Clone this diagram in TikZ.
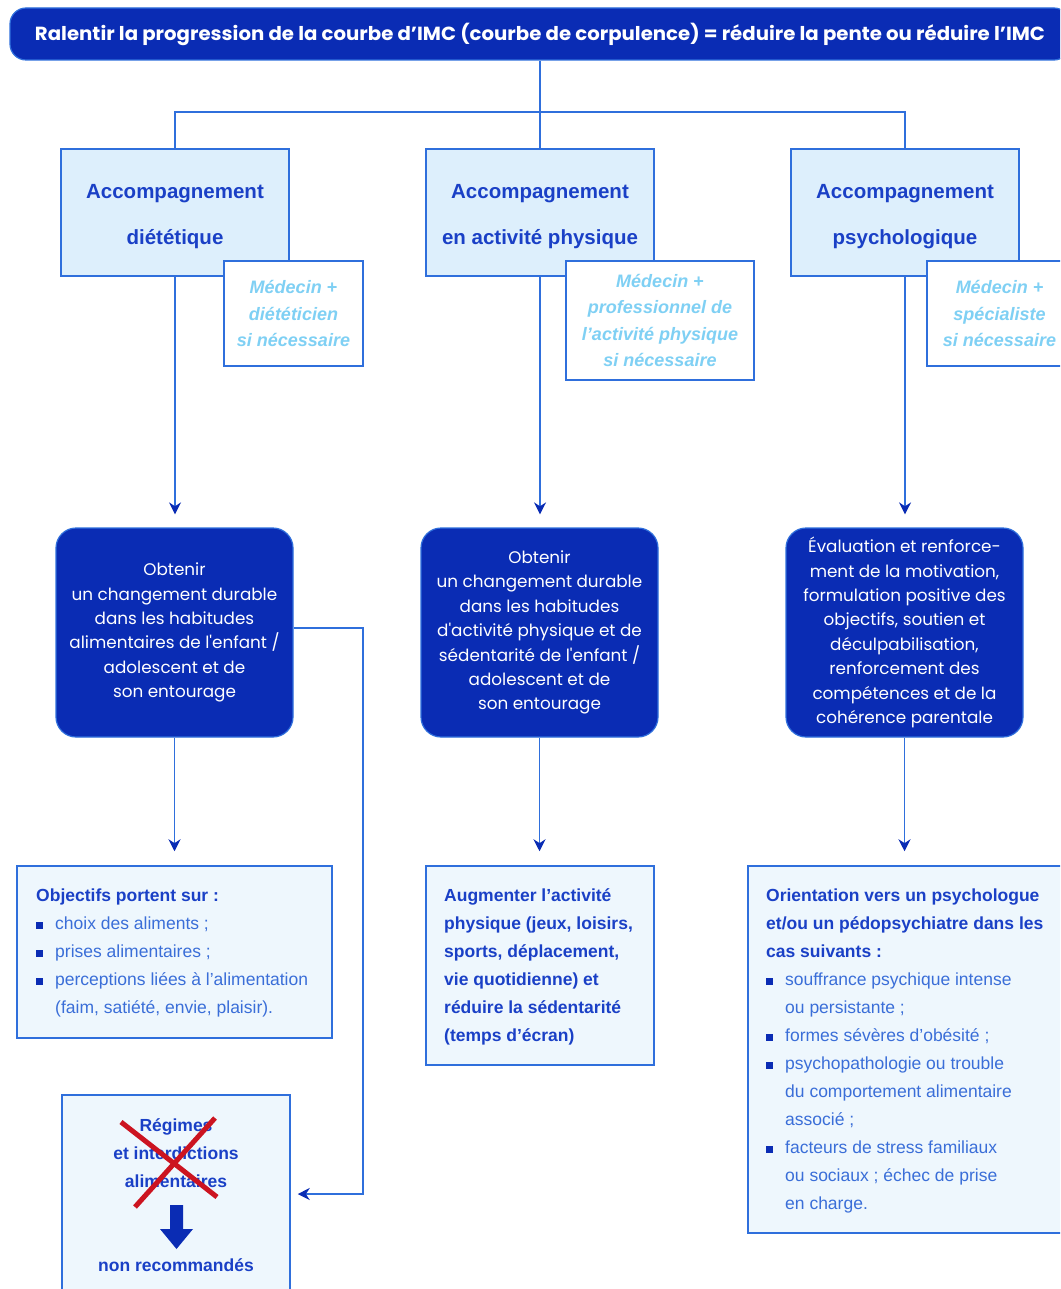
\documentclass[tikz,border=0pt]{standalone}
\usepackage{fontspec}
\setmainfont{Liberation Sans}
\newfontfamily\gothic{Poppins}
\usetikzlibrary{arrows.meta}
\definecolor{darkblue}{HTML}{0A2CB4}
\definecolor{lineblue}{HTML}{2F6FDC}
\definecolor{topfill}{HTML}{DDEFFC}
\definecolor{lightfill}{HTML}{EEF7FD}
\definecolor{headblue}{HTML}{1A40C6}
\definecolor{bodyblue}{HTML}{3A6ED8}
\definecolor{italblue}{HTML}{7FD0F4}
\definecolor{crossred}{HTML}{CC1420}
\newcommand\bul{\makebox[19pt][l]{\textcolor{darkblue}{\raisebox{0.8pt}{\rule{6.5pt}{6.5pt}}}}}
\newcommand\ind{\hspace*{19pt}}
\newcommand\hd[1]{\textcolor{headblue}{\bfseries #1}}
\newcommand\twolines[2]{\begin{tabular}{@{}c@{}}#1\\#2\end{tabular}}
\begin{document}
\begin{tikzpicture}[x=1pt,y=-1pt,
 conn/.style={draw=lineblue,line width=1.8pt},
 arr/.style={conn,-{Stealth[length=12pt,width=12pt,color=darkblue]}},
 topbox/.style={draw=lineblue,line width=1.5pt,fill=topfill,text=headblue,font=\fontsize{20.5}{46}\selectfont\bfseries,align=center,inner sep=0pt,minimum width=228pt,minimum height=127pt},
 sidebox/.style={draw=lineblue,line width=1.5pt,fill=white,text=italblue,font=\fontsize{18}{26.5}\selectfont\bfseries\itshape,align=center,inner sep=0pt},
 darkbox/.style={draw=lineblue,line width=1.2pt,fill=darkblue,rounded corners=20pt,text=white,font=\gothic\fontsize{16.8}{24.4}\selectfont,align=center,inner sep=0pt,minimum width=237pt,minimum height=209pt},
 infobox/.style={draw=lineblue,line width=1.5pt,fill=lightfill,inner sep=0pt},
 infotext/.style={anchor=north west,align=left,inner sep=0pt,text=bodyblue,font=\fontsize{17.5}{28}\selectfont},
]
\useasboundingbox (0,0) rectangle (1060,1289);
\clip (0,0) rectangle (1060,1289);
\fill[white] (0,0) rectangle (1060,1289);

% banner
\node[fill=darkblue,draw=lineblue,line width=1.2pt,rounded corners=16pt,minimum width=1060pt,minimum height=52pt,inner sep=0pt,text=white] (b) at (540,34)
 {\resizebox{1010pt}{\height}{\gothic\bfseries\fontsize{19}{19}\selectfont Ralentir la progression de la courbe d’IMC (courbe de corpulence) = réduire la pente ou réduire l’IMC}};

% top boxes
\node[topbox] (t1) at (175,212.5) {\twolines{Accompagnement}{diététique}};
\node[topbox] (t2) at (540,212.5) {\twolines{Accompagnement}{en activité physique}};
\node[topbox] (t3) at (905,212.5) {\twolines{Accompagnement}{psychologique}};

\coordinate (j) at (540,112);
\draw[conn] (b.south) -- (t2.north);
\draw[conn] (t1.north) |- (j) -| (t3.north);

% side boxes
\node[sidebox,minimum width=139pt,minimum height=105pt] (s1) at (293.5,313.5) {Médecin +\\diététicien\\si nécessaire};
\node[sidebox,minimum width=188pt,minimum height=119pt] (s2) at (660,320.5) {Médecin +\\professionnel de\\l’activité physique\\si nécessaire};
\node[sidebox,minimum width=145pt,minimum height=105pt] (s3) at (999.5,313.5) {Médecin +\\spécialiste\\si nécessaire};

% dark boxes
\node[darkbox] (d1) at (174.5,632.5) {Obtenir\\un changement durable\\dans les habitudes\\alimentaires de l'enfant /\\adolescent et de\\son entourage};
\node[darkbox] (d2) at (539.5,632.5) {Obtenir\\un changement durable\\dans les habitudes\\d'activité physique et de\\sédentarité de l'enfant /\\adolescent et de\\son entourage};
\node[darkbox] (d3) at (904.5,632.5) {Évaluation et renforce-\\ment de la motivation,\\formulation positive des\\objectifs, soutien et\\déculpabilisation,\\renforcement des\\compétences et de la\\cohérence parentale};

\draw[arr,shorten >=13pt] (t1.south) -- (t1.south |- d1.north);
\draw[arr,shorten >=13pt] (t2.south) -- (t2.south |- d2.north);
\draw[arr,shorten >=13pt] (t3.south) -- (t3.south |- d3.north);

% bottom boxes
\node[infobox,minimum width=315pt,minimum height=172pt] (o1) at (174.5,952) {};
\node[infobox,minimum width=228pt,minimum height=199pt] (o2) at (540,965.5) {};
\node[infobox,minimum width=327pt,minimum height=367pt] (o3) at (911.5,1049.5) {};

\draw[arr,shorten >=14pt] (d1.south) -- (d1.south |- o1.north);
\draw[arr,shorten >=14pt] (d2.south) -- (d2.south |- o2.north);
\draw[arr,shorten >=14pt] (d3.south) -- (d3.south |- o3.north);

\node[infotext] (o1t) at (36,888.5) {\hd{Objectifs portent sur :}\\
\bul choix des aliments ;\\
\bul prises alimentaires ;\\
\bul perceptions liées à l’alimentation\\
\ind(faim, satiété, envie, plaisir).};

\node[infotext,text=headblue,font=\fontsize{17.5}{28}\selectfont\bfseries] (o2t) at (444,888.5) {Augmenter l’activité\\
physique (jeux, loisirs,\\
sports, déplacement,\\
vie quotidienne) et\\
réduire la sédentarité\\
(temps d’écran)};

\node[infotext] (o3t) at (766,888.5) {\hd{Orientation vers un psychologue}\\
\hd{et/ou un pédopsychiatre dans les}\\
\hd{cas suivants :}\\
\bul souffrance psychique intense\\
\ind ou persistante ;\\
\bul formes sévères d’obésité ;\\
\bul psychopathologie ou trouble\\
\ind du comportement alimentaire\\
\ind associé ;\\
\bul facteurs de stress familiaux\\
\ind ou sociaux ; échec de prise\\
\ind en charge.};

% bottom-left box
\node[infobox,minimum width=228pt,minimum height=210pt] (r) at (176,1200) {};
\node[align=center,inner sep=0pt,text=headblue,font=\fontsize{17.5}{28}\selectfont\bfseries] (rt) at (176,1153) {Régimes\\et interdictions\\alimentaires};
\draw[crossred,line width=5pt] (121,1122) -- (217,1197);
\draw[crossred,line width=5pt] (215,1118) -- (135,1207);
\fill[darkblue] (170,1205) -- (183,1205) -- (183,1229) -- (193,1229) -- (176.5,1249) -- (160,1229) -- (170,1229) -- cycle;
\node[inner sep=0pt,text=headblue,font=\fontsize{17.5}{28}\selectfont\bfseries] (nr) at (176,1265) {non recommandés};

% side connector
\coordinate (turn) at (363,628);
\draw[arr,shorten >=7pt] ([yshift=4.5pt]d1.east) -- (turn) |- (r.east |- 0,1194);
\end{tikzpicture}
\end{document}
